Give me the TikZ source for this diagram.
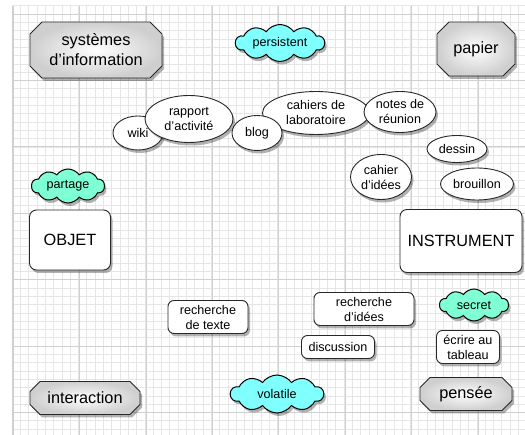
\documentclass[tikz,border=0pt]{standalone}
\usepackage{fontspec}
\setmainfont{Liberation Sans}
\usetikzlibrary{shapes.misc,shapes.symbols,shapes.geometric,shadows}
\definecolor{cloudA}{RGB}{128,255,255}
\definecolor{cloudB}{RGB}{127,255,212}
\definecolor{gridminor}{RGB}{230,230,230}
\definecolor{gridmajor}{RGB}{208,208,208}
\definecolor{edge}{RGB}{40,40,40}
\tikzset{
  bigtxt/.style={font=\fontsize{16.3}{20}\selectfont},
  smalltxt/.style={font=\fontsize{12.6}{15}\selectfont},
  shd/.style={drop shadow={shadow xshift=2pt,shadow yshift=-3pt,opacity=0.3,fill=black}},
  chambox/.style={chamfered rectangle, chamfered rectangle xsep=6pt, chamfered rectangle ysep=6pt,
    draw=edge, line width=0.9pt, inner sep=0pt, align=center, bigtxt, shd,
    inner color=white, outer color=gray!38},
  roundbig/.style={rectangle, rounded corners=7pt, draw=edge, line width=0.9pt, fill=white,
    inner sep=0pt, align=center, bigtxt, shd},
  roundsmall/.style={rectangle, rounded corners=6pt, draw=edge, line width=0.9pt, fill=white,
    inner sep=0pt, align=center, smalltxt, shd},
  ell/.style={ellipse, draw=edge, line width=0.9pt, fill=white, inner sep=0pt, align=center, smalltxt, shd},
  cld/.style={cloud, cloud puffs=10, cloud puff arc=110, cloud ignores aspect, draw=black, line width=1pt,
    inner sep=0pt, align=center, smalltxt, shd},
}
\begin{document}
\begin{tikzpicture}[x=1pt,y=-1pt]
\useasboundingbox (0,0) rectangle (525,435);
\fill[white] (0,0) rectangle (525,435);
% grid
\foreach \i in {0,...,62} {
  \draw[gridminor, line width=0.5pt] ({12+8.3*\i},6) -- ({12+8.3*\i},435);
}
\foreach \j in {0,...,52} {
  \draw[gridminor, line width=0.5pt] (12,{5.7+8.3*\j}) -- (525,{5.7+8.3*\j});
}
\foreach \i in {0,...,7} {
  \draw[gridmajor, line width=0.6pt] ({13+66.4*\i},6) -- ({13+66.4*\i},435);
}
\foreach \j in {0,...,6} {
  \draw[gridmajor, line width=0.6pt] (12,{14+66.4*\j}) -- (525,{14+66.4*\j});
}
\draw[gridmajor, line width=0.6pt] (12,6) -- (12,435);

% corner boxes
\node[chambox, minimum width=132pt, minimum height=56pt] (sys) at (96,50) {systèmes\\d'information};
\node[chambox, minimum width=78pt, minimum height=54pt] (papier) at (476,49) {papier};
\node[chambox, chamfered rectangle xsep=5pt, chamfered rectangle ysep=5pt, minimum width=110pt, minimum height=33pt] (interaction) at (85,398) {interaction};
\node[chambox, chamfered rectangle xsep=5pt, chamfered rectangle ysep=5pt, minimum width=92pt, minimum height=33pt] (pensee) at (466,394) {pensée};

% main boxes
\node[roundbig, minimum width=81pt, minimum height=60pt] (objet) at (70,240) {OBJET};
\node[roundbig, minimum width=122pt, minimum height=63pt] (instrument) at (461,241) {INSTRUMENT};

% small boxes
\node[roundsmall, minimum width=80pt, minimum height=33pt] (rtexte) at (208,317) {recherche\\de texte};
\node[roundsmall, minimum width=100pt, minimum height=33pt] (ridees) at (364,309) {recherche\\d'idées};
\node[roundsmall, minimum width=73pt, minimum height=23pt] (discussion) at (338,347) {discussion};
\node[roundsmall, minimum width=63pt, minimum height=33pt] (ecrire) at (468,347) {écrire au\\tableau};

% ellipses
\node[ell, minimum width=50pt, minimum height=34pt] (wiki) at (138,133) {wiki};
\node[ell, minimum width=88pt, minimum height=47pt] (rapport) at (189,119) {rapport\\d'activité};
\node[ell, minimum width=107pt, minimum height=43pt] (cahiers) at (316,113) {cahiers de\\laboratoire};
\node[ell, minimum width=50pt, minimum height=35pt] (blog) at (257,133) {blog};
\node[ell, minimum width=72pt, minimum height=41pt] (notes) at (400,112) {notes de\\réunion};
\node[ell, minimum width=60pt, minimum height=27pt] (dessin) at (457,149) {dessin};
\node[ell, minimum width=61pt, minimum height=45pt] (cahieridees) at (381,177) {cahier\\d'idées};
\node[ell, minimum width=73pt, minimum height=32pt] (brouillon) at (477,184) {brouillon};

% clouds
\node[cld, fill=cloudA, minimum width=89pt, minimum height=37pt] (persistent) at (280,43) {persistent};
\node[cld, fill=cloudB, minimum width=73pt, minimum height=34pt] (partage) at (68,186) {partage};
\node[cld, fill=cloudB, minimum width=69pt, minimum height=32pt] (secret) at (474,305) {secret};
\node[cld, fill=cloudA, minimum width=93pt, minimum height=38pt] (volatile) at (277,394) {volatile};
\end{tikzpicture}
\end{document}
